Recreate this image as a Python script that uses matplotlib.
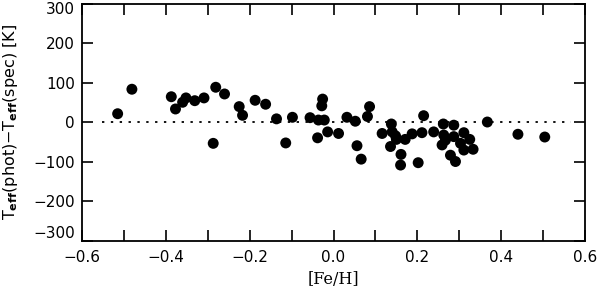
import matplotlib
matplotlib.use('Agg')
import matplotlib.pyplot as plt
from matplotlib.ticker import MultipleLocator

# [Fe/H] and Teff(phot) - Teff(spec) differences
feh = [-0.515, -0.481, -0.387, -0.377, -0.360, -0.352, -0.331, -0.309, -0.281, -0.287,
       -0.260, -0.225, -0.217, -0.187, -0.162, -0.136, -0.114, -0.098,
       -0.056, -0.036, -0.022, -0.026, -0.028, -0.038, -0.014, 0.012,
       0.032, 0.052, 0.056, 0.066, 0.081, 0.086,
       0.215, 0.138, 0.116, 0.140, 0.148, 0.150, 0.171, 0.1875, 0.211, 0.136,
       0.161, 0.160, 0.202,
       0.262, 0.287, 0.239, 0.263, 0.267, 0.287, 0.311, 0.325, 0.303, 0.259,
       0.311, 0.333, 0.279, 0.291,
       0.367, 0.440, 0.504]
dteff = [21, 83, 64, 33, 50, 61, 54, 61, 88, -54,
         71, 39, 17, 55, 45, 8, -53, 12,
         11, 5, 5, 58, 41, -40, -25, -29,
         12, 2, -60, -94, 14, 39,
         16, -5, -29, -25, -35, -44, -44, -30, -27, -62,
         -82, -109, -103,
         -5, -8, -25, -33, -46, -37, -27, -44, -54, -58,
         -71, -69, -84, -100,
         0, -31, -38]
ymin, ymax = -300, 300

plt.rcParams['font.family'] = ['DejaVu Sans']

fig = plt.figure(figsize=(6.0, 2.91), dpi=100)
ax = fig.add_axes([0.1367, 0.1735, 0.8383, 0.8144])

ax.plot([-0.553, 0.566], [0, 0], color='black', lw=1.3, linestyle=(0, (1.3, 3.6)))
ax.scatter(feh, dteff, s=62, color='black', edgecolors='none', zorder=3)

ax.set_xlim(-0.6, 0.6)
ax.set_ylim(ymin, ymax)
ax.xaxis.set_major_locator(MultipleLocator(0.2))
ax.xaxis.set_minor_locator(MultipleLocator(0.1))
ax.yaxis.set_major_locator(MultipleLocator(100))
ax.xaxis.set_major_formatter(plt.FuncFormatter(lambda v, p: f'{v:.1f}'.replace('-', '\u2212')))

def yfmt(v, p):
    # end labels are drawn separately, kept inside the frame like IDL does
    if abs(v) >= ymax:
        return ''
    return f'{v:.0f}'.replace('-', '\u2212')
ax.yaxis.set_major_formatter(plt.FuncFormatter(yfmt))

ax.tick_params(which='both', direction='in', top=True, right=True,
               length=8, width=1.2, labelsize=11, pad=5)
ax.tick_params(axis='x', pad=7)
for sp in ax.spines.values():
    sp.set_linewidth(1.3)

ytrans = ax.get_yaxis_transform()
ax.annotate(f'{ymax}', (0, ymax), xycoords=ytrans, xytext=(-5, 1), textcoords='offset points',
            ha='right', va='top', fontsize=11)
ax.annotate(f'{ymin}'.replace('-', '\u2212'), (0, ymin), xycoords=ytrans, xytext=(-5, 0),
            textcoords='offset points', ha='right', va='bottom', fontsize=11)

ax.set_xlabel('[Fe/H]', family='DejaVu Serif', fontsize=11.5, labelpad=4)
ax.set_ylabel(r'T$_{\mathbf{eff}}$(phot)$-$T$_{\mathbf{eff}}$(spec) [K]', fontsize=11.5, labelpad=10)

fig.savefig('out.png', dpi=100)
